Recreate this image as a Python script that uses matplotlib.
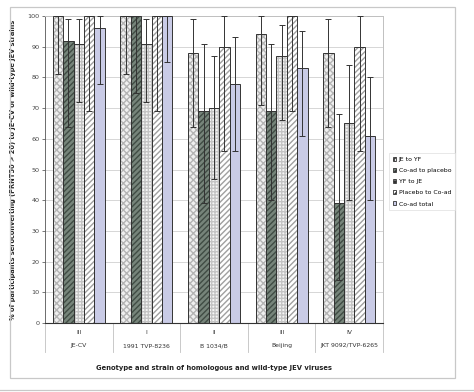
import matplotlib.pyplot as plt
import matplotlib.patches as mpatches
import numpy as np

genotypes = ["III", "I", "II", "III", "IV"]
strains = ["JE-CV", "1991 TVP-8236", "B 1034/B", "Beijing", "JKT 9092/TVP-6265"]
series = ["JE to YF", "Co-ad to placebo", "YF to JE", "Placebo to Co-ad", "Co-ad total"]

values = [
    [100, 100, 88, 94, 88],
    [92, 100, 69, 69, 39],
    [91, 91, 70, 87, 65],
    [100, 100, 90, 100, 90],
    [96, 100, 78, 83, 61],
]
err_low = [
    [81, 81, 64, 71, 64],
    [64, 75, 39, 40, 14],
    [72, 72, 47, 66, 40],
    [69, 69, 56, 69, 56],
    [78, 85, 56, 61, 40],
]
err_high = [
    [100, 100, 99, 100, 99],
    [99, 100, 91, 91, 68],
    [99, 99, 87, 97, 84],
    [100, 100, 100, 100, 100],
    [100, 100, 93, 95, 80],
]

faces = ["#f0f0f0", "#76847a", "#f6f6f6", "#ffffff", "#c9cbe6"]
hatch_cols = ["#b4b4b4", "#404c44", "#c4c4c4", "#a0a0a0", "#c9cbe6"]
hatches = ["xxxxx", "//////", "+++++", "//////", None]

fig = plt.figure(figsize=(4.74, 3.92), dpi=100)
W, H = 474, 392

# outer frame
fig.patches.append(mpatches.Rectangle((10 / W, 1 - 378 / H), 445 / W, 371 / H,
                                      transform=fig.transFigure, fill=False,
                                      edgecolor="#c8c8c8", linewidth=0.9))
fig.add_artist(plt.Line2D([0, 1], [1 - 390 / H] * 2, transform=fig.transFigure,
                          color="#c8c8c8", linewidth=0.9))

ax = fig.add_axes([45 / W, 1 - 323 / H, 338 / W, 307 / H])
n_cat = len(strains)
w = 1 / 6.5
x = np.arange(n_cat)
for i, name in enumerate(series):
    pos = x + (i - 2) * w
    vals = np.array(values[i])
    ax.bar(pos, vals, w, color=faces[i], edgecolor=hatch_cols[i], hatch=hatches[i],
           linewidth=0, zorder=2)
    ax.bar(pos, vals, w, fill=False, edgecolor="#333333", linewidth=0.7, zorder=3)
    yerr = [vals - np.array(err_low[i]), np.array(err_high[i]) - vals]
    ax.errorbar(pos, vals, yerr=yerr, fmt="none", ecolor="#333333", elinewidth=0.7,
                capsize=2.5, capthick=0.7, zorder=4)

ax.set_xlim(-0.5, n_cat - 0.5)
ax.set_ylim(0, 100)
ax.set_yticks(range(0, 101, 10))
ax.tick_params(axis="y", labelsize=4.6, length=2, width=0.5, colors="#444444", pad=2)
ax.set_xticks([])
ax.yaxis.grid(True, color="#d0d0d0", linewidth=0.6, zorder=0)
ax.set_axisbelow(True)
for s in ["top", "right"]:
    ax.spines[s].set_color("#c0c0c0")
    ax.spines[s].set_linewidth(0.7)
ax.spines["left"].set_color("#555555")
ax.spines["left"].set_linewidth(0.6)
ax.spines["bottom"].set_color("#333333")
ax.spines["bottom"].set_linewidth(0.8)

ax.set_ylabel("% of participants seroconverting (PRNT50 > 20) to JE-CV or wild-type JEV strains",
              fontsize=4.8, fontweight="bold", color="#222222", labelpad=8)

# category separators and labels
trans = ax.get_xaxis_transform()
for k in range(n_cat + 1):
    ax.plot([k - 0.5, k - 0.5], [0, -29 / 307], transform=trans, color="#c0c0c0",
            linewidth=0.6, clip_on=False)
for k in range(n_cat):
    ax.text(k, -9 / 307, genotypes[k], transform=trans, ha="center", va="center",
            fontsize=4.4, color="#333333")
    ax.text(k, -23 / 307, strains[k], transform=trans, ha="center", va="center",
            fontsize=4.4, color="#333333")

fig.text(214 / W, 1 - 368 / H, "Genotype and strain of homologous and wild-type JEV viruses",
         ha="center", va="center", fontsize=4.9, fontweight="bold", color="#222222")

handles = [mpatches.Patch(facecolor=faces[i], edgecolor="#333333", hatch=hatches[i],
                          linewidth=0.6) for i in range(len(series))]
leg = fig.legend(handles, series, loc="upper left", bbox_to_anchor=(389 / W, 1 - 153 / H),
                 fontsize=4.4, frameon=True, fancybox=False, handlelength=0.6,
                 handleheight=0.6, handletextpad=0.4, labelspacing=1.0,
                 borderpad=0.6, borderaxespad=0)
leg.get_frame().set_edgecolor("#dddddd")
leg.get_frame().set_linewidth(0.6)

fig.savefig("out.png", dpi=100)
